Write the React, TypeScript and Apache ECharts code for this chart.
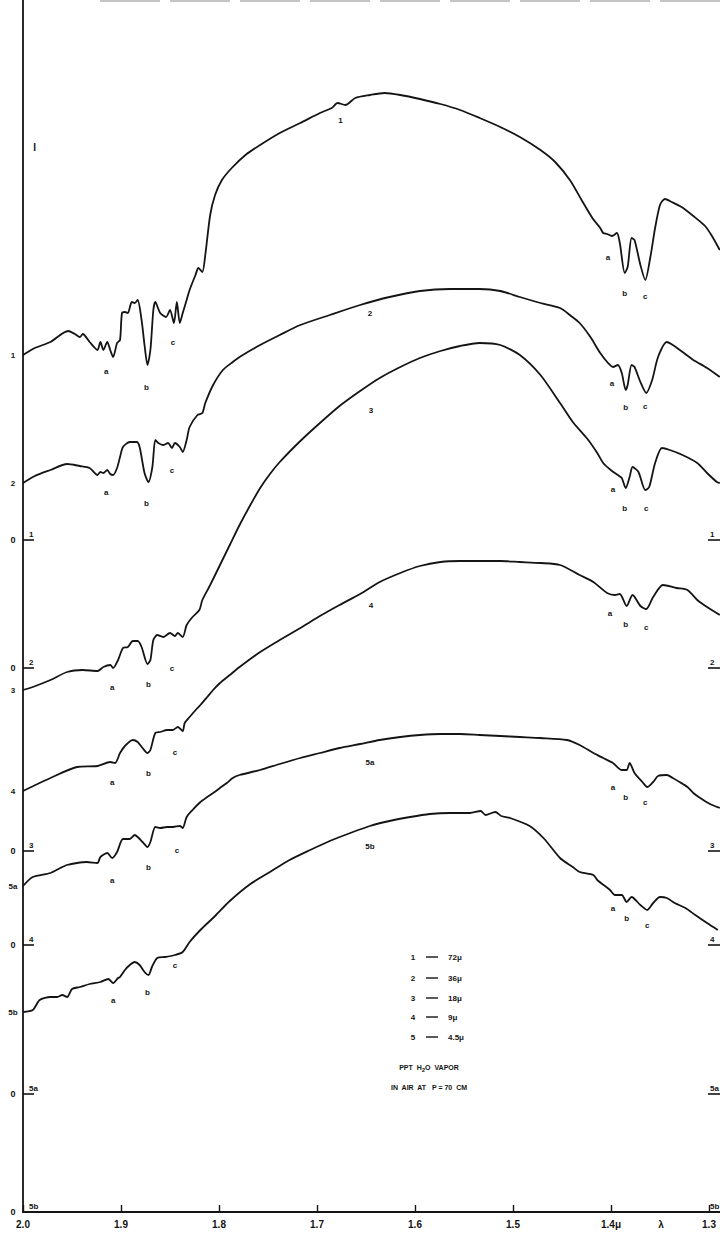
import React, { useEffect, useRef } from "react";
import * as echarts from "echarts";

// ---- axis ----
const tickValues = [2.0, 1.9, 1.8, 1.7, 1.6, 1.5, 1.4, 1.3];
const tickLabels = ["2.0", "1.9", "1.8", "1.7", "1.6", "1.5", "1.4μ", "1.3"];

// ---- traces: [wavelength (μ), deflection above the trace's own zero] ----
const curveNames = ["1", "2", "3", "4", "5a", "5b"];
const zeroLevels = [67.2, 54.4, 36.1, 26.7, 11.8, 0];

const curve1 = [
  [2.0, 18.5], [1.988, 19.2], [1.972, 19.8], [1.954, 20.9], [1.947, 20.6], [1.942, 20.3], [1.939, 20.6],
  [1.932, 19.8], [1.924, 19.0], [1.921, 19.8], [1.918, 19.0], [1.914, 19.8], [1.911, 19.0], [1.908, 18.3],
  [1.904, 19.7], [1.901, 20.0], [1.899, 22.7], [1.896, 22.8], [1.893, 22.7], [1.889, 23.8], [1.886, 23.7],
  [1.883, 24.0], [1.879, 22.0], [1.876, 19.5], [1.873, 17.5], [1.87, 19.0], [1.867, 23.0], [1.865, 23.8],
  [1.86, 22.7], [1.854, 22.3], [1.85, 23.0], [1.846, 21.7], [1.843, 23.8], [1.84, 21.7], [1.837, 22.7],
  [1.833, 24.0], [1.83, 25.0], [1.824, 26.5], [1.821, 27.2], [1.817, 26.8], [1.814, 28.5], [1.809, 32.5],
  [1.804, 34.5], [1.797, 36.0], [1.787, 37.2], [1.773, 38.5], [1.758, 39.5], [1.738, 40.7], [1.717, 41.7],
  [1.697, 42.7], [1.685, 43.2], [1.679, 43.7], [1.671, 43.5], [1.661, 44.2], [1.646, 44.5], [1.631, 44.7],
  [1.615, 44.5], [1.595, 44.1], [1.574, 43.6], [1.554, 43.0], [1.534, 42.2], [1.513, 41.3], [1.493, 40.3],
  [1.472, 39.0], [1.457, 37.8], [1.442, 36.0], [1.43, 34.0], [1.419, 32.2], [1.411, 31.2], [1.408, 30.7],
  [1.404, 30.6], [1.399, 30.4], [1.394, 30.7], [1.391, 29.7], [1.386, 26.7], [1.383, 27.3], [1.379, 30.2],
  [1.376, 30.0], [1.37, 27.5], [1.365, 26.0], [1.36, 28.2], [1.355, 31.2], [1.35, 33.5], [1.345, 34.1],
  [1.338, 33.8], [1.328, 33.3], [1.316, 32.4], [1.304, 31.4], [1.297, 30.4], [1.289, 29.0],
];

const curve2 = [
  [2.0, 18.5], [1.988, 19.2], [1.972, 19.8], [1.955, 20.4], [1.942, 20.2], [1.932, 20.0], [1.924, 19.3],
  [1.921, 19.6], [1.918, 19.5], [1.914, 19.8], [1.911, 19.4], [1.908, 19.3], [1.904, 20.0], [1.901, 21.1],
  [1.898, 22.1], [1.891, 22.6], [1.884, 22.6], [1.881, 22.1], [1.876, 19.5], [1.872, 18.6], [1.868, 20.1],
  [1.865, 22.8], [1.862, 22.5], [1.857, 22.3], [1.852, 22.5], [1.848, 22.0], [1.845, 22.5], [1.84, 22.1],
  [1.837, 21.6], [1.833, 22.8], [1.83, 24.1], [1.822, 25.3], [1.817, 25.5], [1.814, 26.5], [1.806, 28.3],
  [1.796, 29.8], [1.786, 30.6], [1.779, 31.1], [1.758, 32.3], [1.738, 33.3], [1.717, 34.3], [1.687, 35.3],
  [1.656, 36.3], [1.626, 37.1], [1.595, 37.7], [1.564, 37.9], [1.534, 37.9], [1.513, 37.7], [1.493, 37.1],
  [1.472, 36.5], [1.452, 36.0], [1.442, 35.3], [1.432, 34.5], [1.421, 33.1], [1.411, 31.5], [1.403, 30.5],
  [1.398, 30.1], [1.393, 30.3], [1.389, 29.5], [1.385, 27.8], [1.383, 28.3], [1.379, 30.3], [1.376, 30.1],
  [1.37, 28.6], [1.364, 27.5], [1.358, 28.8], [1.352, 31.1], [1.343, 32.6], [1.337, 32.3], [1.327, 31.6],
  [1.316, 30.8], [1.302, 30.0], [1.289, 29.1],
];

const curve3 = [
  [2.0, 16.1], [1.99, 16.4], [1.972, 17.1], [1.955, 17.9], [1.939, 18.1], [1.924, 18.0], [1.918, 18.4],
  [1.911, 18.6], [1.908, 18.3], [1.903, 19.1], [1.898, 20.3], [1.893, 20.4], [1.888, 21.0], [1.883, 21.0],
  [1.879, 20.4], [1.873, 18.7], [1.87, 19.1], [1.867, 21.1], [1.863, 21.6], [1.857, 21.4], [1.85, 21.8],
  [1.845, 21.5], [1.842, 21.8], [1.837, 21.4], [1.833, 22.6], [1.827, 23.4], [1.82, 24.1], [1.817, 25.1],
  [1.809, 26.6], [1.799, 28.6], [1.789, 30.6], [1.779, 32.6], [1.768, 34.6], [1.758, 36.3], [1.748, 37.7],
  [1.738, 38.9], [1.717, 41.0], [1.697, 42.8], [1.677, 44.5], [1.656, 46.0], [1.636, 47.3], [1.615, 48.4],
  [1.595, 49.3], [1.574, 50.0], [1.554, 50.5], [1.534, 50.8], [1.513, 50.6], [1.493, 49.6], [1.472, 47.6],
  [1.452, 44.8], [1.439, 42.9], [1.424, 41.2], [1.414, 39.8], [1.408, 38.8], [1.399, 38.0], [1.393, 37.6],
  [1.389, 37.3], [1.385, 36.3], [1.381, 37.4], [1.378, 38.4], [1.372, 37.9], [1.365, 36.1], [1.361, 36.4],
  [1.355, 38.8], [1.348, 40.3], [1.34, 40.1], [1.327, 39.6], [1.312, 38.8], [1.302, 37.8], [1.292, 36.9],
  [1.289, 36.8],
];

const curve4 = [
  [2.0, 15.4], [1.972, 16.7], [1.945, 17.8], [1.924, 17.9], [1.911, 18.3], [1.906, 18.2], [1.901, 19.2],
  [1.896, 19.9], [1.888, 20.5], [1.883, 20.3], [1.878, 19.7], [1.873, 19.2], [1.87, 19.5], [1.865, 21.2],
  [1.86, 21.3], [1.853, 21.5], [1.847, 21.5], [1.842, 21.8], [1.837, 21.4], [1.835, 22.2], [1.83, 22.8],
  [1.822, 23.7], [1.819, 24.0], [1.812, 24.8], [1.806, 25.5], [1.799, 26.2], [1.789, 27.0], [1.779, 27.8],
  [1.758, 29.3], [1.738, 30.5], [1.717, 31.7], [1.697, 32.9], [1.677, 34.0], [1.656, 35.1], [1.636, 36.3],
  [1.615, 37.2], [1.595, 37.9], [1.574, 38.3], [1.554, 38.4], [1.534, 38.4], [1.513, 38.4], [1.493, 38.3],
  [1.472, 38.2], [1.452, 38.0], [1.432, 37.0], [1.418, 36.3], [1.404, 35.2], [1.396, 35.0], [1.391, 35.1],
  [1.384, 33.9], [1.378, 35.0], [1.37, 33.9], [1.364, 33.6], [1.357, 34.8], [1.347, 36.0], [1.333, 35.7],
  [1.322, 35.5], [1.312, 34.5], [1.302, 33.8], [1.289, 33.0],
];

const curve5a = [
  [2.0, 20.8], [1.99, 21.7], [1.972, 22.1], [1.962, 22.6], [1.955, 22.9], [1.945, 23.1], [1.935, 23.2],
  [1.924, 23.1], [1.921, 23.7], [1.914, 24.1], [1.909, 23.6], [1.904, 24.2], [1.898, 25.5], [1.891, 25.5],
  [1.886, 25.9], [1.883, 25.7], [1.878, 25.2], [1.873, 24.7], [1.87, 25.2], [1.865, 26.7], [1.86, 26.6],
  [1.853, 26.7], [1.847, 26.7], [1.84, 26.8], [1.837, 26.6], [1.833, 27.7], [1.827, 28.4], [1.819, 29.2],
  [1.812, 29.7], [1.806, 30.1], [1.799, 30.6], [1.792, 31.1], [1.786, 31.6], [1.779, 31.9], [1.758, 32.4],
  [1.738, 33.0], [1.717, 33.6], [1.697, 34.1], [1.677, 34.6], [1.656, 35.0], [1.636, 35.4], [1.615, 35.7],
  [1.595, 35.9], [1.574, 36.0], [1.554, 36.0], [1.534, 35.9], [1.513, 35.8], [1.493, 35.7], [1.472, 35.6],
  [1.445, 35.4], [1.432, 34.9], [1.418, 34.1], [1.408, 33.6], [1.398, 33.1], [1.389, 32.4], [1.384, 32.4],
  [1.381, 33.1], [1.376, 32.1], [1.368, 31.2], [1.363, 30.7], [1.357, 31.2], [1.352, 31.8], [1.343, 31.9],
  [1.337, 31.6], [1.33, 31.2], [1.322, 30.7], [1.316, 30.1], [1.309, 29.6], [1.299, 29.0], [1.289, 28.6],
];

const curve5b = [
  [2.0, 20.0], [1.99, 20.2], [1.983, 21.2], [1.972, 21.5], [1.965, 21.5], [1.96, 21.7], [1.955, 21.5],
  [1.95, 22.3], [1.942, 22.5], [1.932, 22.8], [1.921, 23.0], [1.913, 23.3], [1.908, 22.9], [1.903, 23.4],
  [1.901, 23.5], [1.896, 24.2], [1.891, 24.7], [1.886, 25.0], [1.881, 24.7], [1.876, 24.0], [1.872, 23.7],
  [1.868, 24.6], [1.863, 25.4], [1.855, 25.5], [1.845, 25.7], [1.837, 26.0], [1.83, 27.0], [1.819, 28.2],
  [1.804, 29.6], [1.789, 31.1], [1.768, 32.8], [1.748, 34.0], [1.728, 35.2], [1.707, 36.2], [1.687, 37.1],
  [1.666, 37.9], [1.646, 38.6], [1.626, 39.1], [1.605, 39.5], [1.585, 39.8], [1.564, 39.9], [1.544, 39.9],
  [1.533, 40.1], [1.528, 39.7], [1.518, 40.0], [1.512, 39.6], [1.503, 39.4], [1.483, 38.6], [1.468, 37.3],
  [1.452, 35.4], [1.439, 34.5], [1.432, 34.0],
  [1.418, 33.7], [1.414, 33.2], [1.401, 32.2], [1.396, 31.7], [1.389, 31.7], [1.384, 31.0], [1.379, 31.5],
  [1.37, 30.7], [1.363, 30.2], [1.357, 30.9], [1.35, 31.5], [1.343, 31.4], [1.335, 30.9], [1.324, 30.4],
  [1.314, 29.7], [1.302, 28.9], [1.291, 28.2],
];

const curves = [curve1, curve2, curve3, curve4, curve5a, curve5b];

// ---- annotations (wavelength, axis value) ----
const bandLetters: [string, number, number][] = [
  ["a", 1.915, 84.1], ["b", 1.874, 82.5], ["c", 1.847, 87.0], ["a", 1.403, 95.5], ["b", 1.386, 91.9], ["c", 1.365, 91.6],
  ["a", 1.915, 72.0], ["b", 1.874, 70.9], ["c", 1.848, 74.2], ["a", 1.399, 82.9], ["b", 1.385, 80.5], ["c", 1.365, 80.6],
  ["a", 1.909, 52.5], ["b", 1.872, 52.8], ["c", 1.848, 54.4], ["a", 1.398, 72.3], ["b", 1.386, 70.4], ["c", 1.364, 70.4],
  ["a", 1.909, 43.0], ["b", 1.872, 43.9], ["c", 1.845, 46.0], ["a", 1.401, 59.9], ["b", 1.385, 58.8], ["c", 1.364, 58.5],
  ["a", 1.909, 33.2], ["b", 1.872, 34.5], ["c", 1.843, 36.2], ["a", 1.398, 42.5], ["b", 1.385, 41.5], ["c", 1.365, 41.0],
  ["a", 1.908, 21.2], ["b", 1.873, 22.0], ["c", 1.845, 24.7], ["a", 1.398, 30.4], ["b", 1.384, 29.4], ["c", 1.363, 28.7],
];
const traceLabels: [string, number, number][] = [
  ["1", 1.676, 109.2], ["2", 1.646, 89.9], ["3", 1.645, 80.2], ["4", 1.645, 60.7], ["5a", 1.646, 45.0], ["5b", 1.646, 36.6],
];
const legendNumbers = ["1", "2", "3", "4", "5"];
const legendThickness = ["72μ", "36μ", "18μ", "9μ", "4.5μ"];

const FONT = '"Liberation Sans", "DejaVu Sans", Arial, sans-serif';
const INK = "#141414";

export default function App() {
  const ref = useRef<HTMLDivElement>(null);
  useEffect(() => {
    const el = ref.current!;
    const chart = echarts.init(el, null, { renderer: "svg" });
    const option: any = {
      animation: false,
      backgroundColor: "#ffffff",
      grid: { left: 23, top: 0, width: 784, height: 1212, containLabel: false, outerBoundsMode: "none" },
      xAxis: {
        type: "value",
        min: 1.2,
        max: 2.0,
        interval: 0.1,
        inverse: true,
        axisLine: { show: true, onZero: false, lineStyle: { color: INK, width: 1.8 } },
        axisTick: { show: true, inside: true, length: 7, lineStyle: { color: INK, width: 1.4 } },
        axisLabel: {
          show: true,
          showMinLabel: true,
          showMaxLabel: true,
          margin: 7,
          color: INK,
          fontSize: 10,
          fontWeight: "bold",
          fontFamily: FONT,
          formatter: (v: number) => {
            const i = tickValues.findIndex((t) => Math.abs(t - v) < 1e-6);
            return i >= 0 ? tickLabels[i] : "";
          },
        },
        splitLine: { show: false },
      },
      yAxis: {
        type: "value",
        min: 0,
        max: 121.2,
        axisLine: { show: true, lineStyle: { color: INK, width: 1.8 } },
        axisTick: { show: false },
        axisLabel: { show: false },
        splitLine: { show: false },
      },
      series: curves.map((c, i) => ({
        name: curveNames[i],
        type: "line",
        data: c.map(([l, d]) => [l, d + zeroLevels[i]]),
        showSymbol: false,
        smooth: 0.25,
        lineStyle: { color: INK, width: 1.8 },
      })),
    };
    chart.setOption(option);

    const P = (l: number, v: number) => chart.convertToPixel({ gridIndex: 0 }, [l, v]) as number[];
    const txt = (x: number, y: number, text: string, size = 9, align = "center") => ({
      type: "text",
      x,
      y,
      silent: true,
      style: { text, fill: INK, font: `bold ${size}px ${FONT}`, textAlign: align, textVerticalAlign: "middle" },
    });
    const seg = (x1: number, y1: number, x2: number, y2: number, w = 1.6) => ({
      type: "line",
      silent: true,
      shape: { x1, y1, x2, y2 },
      style: { stroke: INK, lineWidth: w },
    });

    const g: any[] = [];
    const [x20, yTop] = P(2.0, 121.2);
    const [x13] = P(1.3, 0);
    // faint frame line along the top edge of the sheet
    g.push({
      type: "line",
      silent: true,
      shape: { x1: 100, y1: yTop + 1, x2: 720, y2: yTop + 1 },
      style: { stroke: "#888", lineWidth: 1, lineDash: [60, 10] },
    });
    bandLetters.forEach(([t, l, v]) => {
      const [x, y] = P(l, v);
      g.push(txt(x, y, t, 8));
    });
    traceLabels.forEach(([t, l, v]) => {
      const [x, y] = P(l, v);
      g.push(txt(x, y, t, 8));
    });
    curves.forEach((c, i) => {
      const [, y] = P(2.0, c[0][1] + zeroLevels[i]);
      g.push(txt(x20 - 10, y, curveNames[i], 8));
    });
    zeroLevels.forEach((z, i) => {
      const [, y] = P(2.0, z);
      g.push(txt(x20 - 10, y, "0", 9));
      if (z > 0) {
        g.push(seg(x20, y, x20 + 11, y));
        g.push(seg(x13 - 1, y, x13 + 12, y));
      }
      g.push(txt(x20 + 6, y - 6, curveNames[i], 8, "left"));
      g.push(txt(x13 + 1, y - 6, curveNames[i], 8, "left"));
    });
    {
      const [x, y] = P(1.988, 106.5);
      g.push(txt(x, y, "I", 10));
    }
    {
      const [x, y] = P(1.349, 0);
      g.push(txt(x, y + 12, "λ", 10));
    }
    const rows = [957, 978, 998, 1017, 1037];
    rows.forEach((ry, i) => {
      g.push(txt(413, ry, legendNumbers[i], 8));
      g.push(seg(426, ry, 438, ry, 1.4));
      g.push(txt(448, ry, legendThickness[i], 8, "left"));
    });
    g.push({
      type: "text",
      x: 429,
      y: 1067,
      silent: true,
      style: {
        text: "PPT  H{s|2}O  VAPOR",
        fill: INK,
        font: `bold 7px ${FONT}`,
        textAlign: "center",
        textVerticalAlign: "middle",
        rich: { s: { fontSize: 6, fontWeight: "bold", fontFamily: FONT, fill: INK, padding: [5, 0, 0, 0] } },
      },
    });
    g.push(txt(429, 1087, "IN  AIR  AT   P = 70  CM", 7));

    chart.setOption({ graphic: g });
    return () => chart.dispose();
  }, []);
  return (
    <div
      ref={ref}
      style={{ position: "fixed", left: 0, top: 0, width: 720, height: 1233, background: "#fff" }}
    />
  );
}
